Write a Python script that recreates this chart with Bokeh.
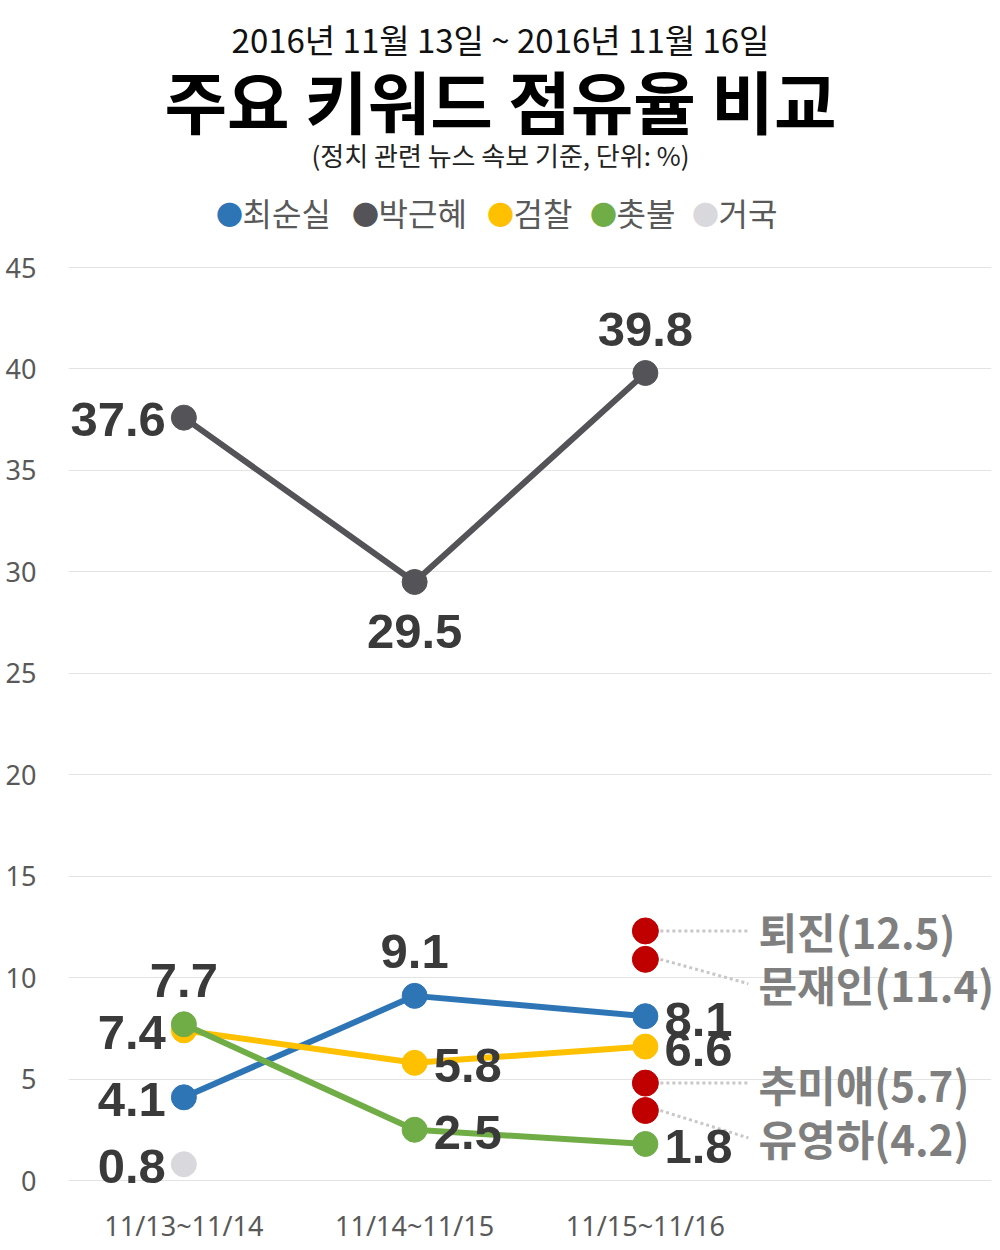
from bokeh.plotting import figure
from bokeh.models import ColumnDataSource, Range1d, FixedTicker, Label
from bokeh.core.properties import value
from bokeh.embed import file_html
from bokeh.resources import INLINE

# ---------------- data ----------------
periods = ["11/13~11/14", "11/14~11/15", "11/15~11/16"]
series_names = ["최순실", "박근혜", "검찰", "촛불", "거국"]
choi = [4.1, 9.1, 8.1]
park = [37.6, 29.5, 39.8]
prosecution = [7.4, 5.8, 6.6]
candle = [7.7, 2.5, 1.8]
cabinet = [0.8]                      # only the first period
extra_names = ["퇴진", "문재인", "추미애", "유영하"]
extra_values = [12.5, 11.4, 5.7, 4.2]
extra_dot_y = [12.3, 10.9, 4.8, 3.45]    # where the red dots are drawn
extra_label_y = [12.3, 9.7, 4.8, 2.1]    # where their labels sit
y_ticks = [0, 5, 10, 15, 20, 25, 30, 35, 40, 45]

title_top = "2016년 11월 13일 ~ 2016년 11월 16일"
title_main = "주요 키워드 점유율 비교"
title_sub = "(정치 관련 뉴스 속보 기준, 단위: %)"

# ---------------- style / geometry ----------------
colors = ["#2e75b6", "#545358", "#ffc000", "#70ad47", "#d9d8dc"]
red = "#c00000"
placements = [
    ["left", "above", "right"],
    ["left", "below", "above"],
    ["left", "right", "right"],
    ["above", "right", "right"],
    ["left"],
]
series_values = [choi, park, prosecution, candle, cabinet]

W, H = 1000, 1246
FL = 68                 # frame left
FR = 9                  # right border
FB = 56                 # bottom border for the x axis
FW = W - FL - FR
FH = H - FB
SCALE = 913 / 45        # px per unit (45 line at y 267, 0 at 1180)
Y1 = 45 + 267 / SCALE
Y0 = Y1 - FH / SCALE
X0, X1 = -0.5, 3.5
UX = FW / (X1 - X0)     # px per x unit

p = figure(width=W, height=H, output_backend="svg", toolbar_location=None,
           x_range=Range1d(X0, X1), y_range=Range1d(Y0, Y1),
           min_border_left=FL, min_border_top=0, min_border_right=FR,
           min_border_bottom=FB)
p.outline_line_color = None
p.background_fill_color = "white"
p.border_fill_color = "white"

# axes
p.yaxis.ticker = FixedTicker(ticks=y_ticks)
p.yaxis.axis_line_color = None
p.yaxis.major_tick_line_color = None
p.yaxis.minor_tick_line_color = None
p.yaxis.major_label_text_font = "Noto Sans"
p.yaxis.major_label_text_font_size = "27px"
p.yaxis.major_label_text_color = "#595959"
p.yaxis.major_label_standoff = 26

p.xaxis.ticker = FixedTicker(ticks=[0, 1, 2])
p.xaxis.major_label_overrides = {i: lab for i, lab in enumerate(periods)}
p.xaxis.axis_line_color = None
p.xaxis.major_tick_line_color = None
p.xaxis.minor_tick_line_color = None
p.xaxis.major_label_text_font = "Noto Sans"
p.xaxis.major_label_text_font_size = "27px"
p.xaxis.major_label_text_color = "#595959"
p.xaxis.major_label_standoff = 10

p.xgrid.grid_line_color = None
p.ygrid.grid_line_color = "#e3e3e3"
p.ygrid.grid_line_width = 1


def px_x(page_x):
    return X0 + (page_x - FL) / UX


def px_y(page_y):
    return Y1 - page_y / SCALE


# lines + markers (draw order: grey, blue, yellow, green, light grey)
for i in [1, 0, 2, 3, 4]:
    vals = series_values[i]
    xs = list(range(len(vals)))
    if len(vals) > 1:
        p.line(xs, vals, line_width=6, color=colors[i])
    p.scatter(xs, vals, size=25, color=colors[i])

# extra red markers with dotted connectors
n_extra = len(extra_names)
p.segment(x0=[2 + 15 / UX] * n_extra, y0=extra_dot_y,
          x1=[2 + 103 / UX] * n_extra, y1=extra_label_y,
          line_color="#c8c8c8", line_width=3, line_dash="3 3")
p.scatter([2] * n_extra, extra_dot_y, size=26, color=red)
p.text(x=[2 + 113 / UX] * n_extra, y=extra_label_y,
       text=[f"{n}({v})" for n, v in zip(extra_names, extra_values)],
       text_font=value("Noto Sans CJK KR"), text_font_style="bold",
       text_font_size="42px", text_color="#7f7f7f",
       text_align="left", text_baseline="middle")

# data labels
offsets = {
    "left": dict(x_offset=-18, y_offset=2, text_align="right"),
    "right": dict(x_offset=19, y_offset=3, text_align="left"),
    "above": dict(x_offset=0, y_offset=-44, text_align="center"),
    "below": dict(x_offset=0, y_offset=50, text_align="center"),
}
for place, opts in offsets.items():
    xs, ys, ts = [], [], []
    for vals, pl in zip(series_values, placements):
        for j, v in enumerate(vals):
            if pl[j] == place:
                xs.append(j)
                ys.append(v)
                ts.append(f"{v}")
    src = ColumnDataSource(dict(x=xs, y=ys, t=ts))
    p.text(x="x", y="y", text="t", source=src,
           text_font=value("Liberation Sans"), text_font_style="bold",
           text_font_size="49px", text_color="#3a3a3a",
           text_baseline="middle", **opts)

# titles
p.add_layout(Label(x=px_x(500), y=px_y(38), text=title_top,
                   text_font="Noto Sans CJK KR", text_font_size="33px",
                   text_color="#111111", text_align="center",
                   text_baseline="middle"))
p.add_layout(Label(x=px_x(500), y=px_y(99), text=title_main,
                   text_font="Noto Sans CJK KR", text_font_size="68px",
                   text_font_style="bold", text_color="#000000",
                   text_align="center", text_baseline="middle"))
p.add_layout(Label(x=px_x(500), y=px_y(154), text=title_sub,
                   text_font="Noto Sans CJK KR", text_font_size="26px",
                   text_color="#222222", text_align="center",
                   text_baseline="middle"))

# legend (dot + name)
leg_dot_x = [229, 365, 500, 603, 705]
leg_text_x = [242, 378, 513, 616, 718]
for name, c, dx, tx in zip(series_names, colors, leg_dot_x, leg_text_x):
    p.add_layout(Label(x=px_x(dx), y=px_y(213), text="●",
                       text_font="Noto Sans CJK KR", text_font_size="27px",
                       text_color=c, text_align="center",
                       text_baseline="middle"))
    p.add_layout(Label(x=px_x(tx), y=px_y(211), text=name,
                       text_font="Noto Sans CJK KR", text_font_size="32px",
                       text_color="#595959", text_align="left",
                       text_baseline="middle"))

open("out.html", "w").write(file_html(p, INLINE))
